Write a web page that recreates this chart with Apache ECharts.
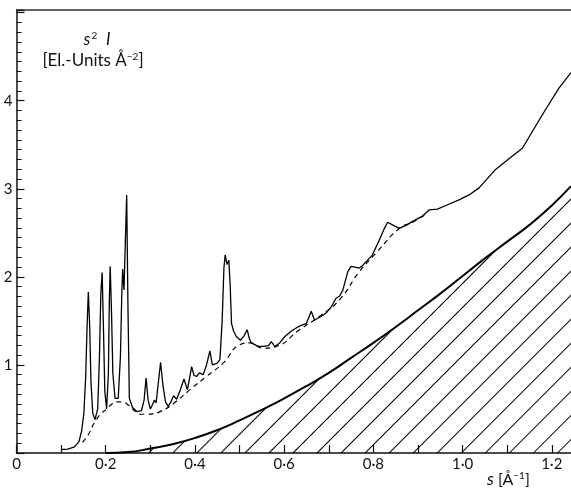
<!DOCTYPE html>
<html>
<head>
<meta charset="utf-8">
<script src="https://cdn.jsdelivr.net/npm/echarts@6/dist/echarts.min.js"></script>
<style>
  html, body { margin: 0; padding: 0; background: #fff; }
  #chart { width: 571px; height: 492px; }
</style>
</head>
<body>
<div id="chart"></div>
<script>
// measured s^2 I curve (solid, with the sharp peaks)
const measuredS = [0.100, 0.115, 0.130, 0.140, 0.146, 0.151, 0.155, 0.158, 0.161, 0.164, 0.167, 0.171, 0.176, 0.182, 0.186, 0.189, 0.192, 0.195, 0.198, 0.202, 0.206, 0.208, 0.210, 0.213, 0.216, 0.221, 0.228, 0.233, 0.236, 0.238, 0.241, 0.244, 0.247, 0.250, 0.253, 0.260, 0.270, 0.280, 0.286, 0.2905, 0.295, 0.300, 0.305, 0.309, 0.313, 0.318, 0.323, 0.328, 0.334, 0.340, 0.346, 0.352, 0.359, 0.366, 0.3754, 0.383, 0.388, 0.3926, 0.398, 0.404, 0.410, 0.4186, 0.426, 0.4335, 0.439, 0.4425, 0.450, 0.456, 0.461, 0.465, 0.4678, 0.472, 0.476, 0.479, 0.482, 0.487, 0.493, 0.502, 0.510, 0.517, 0.522, 0.5266, 0.5415, 0.5527, 0.565, 0.571, 0.579, 0.590, 0.601, 0.615, 0.627, 0.638, 0.6496, 0.6607, 0.668, 0.683, 0.694, 0.7055, 0.7166, 0.724, 0.7315, 0.7427, 0.750, 0.7687, 0.776, 0.798, 0.8134, 0.8246, 0.832, 0.843, 0.858, 0.875, 0.888, 0.910, 0.925, 0.9437, 0.9624, 0.992, 1.0145, 1.037, 1.074, 1.111, 1.134, 1.1635, 1.186, 1.2156, 1.243];
const measuredI = [0.04, 0.045, 0.07, 0.13, 0.25, 0.45, 0.85, 1.40, 1.83, 1.45, 0.80, 0.45, 0.38, 0.50, 1.10, 1.80, 2.05, 1.40, 0.70, 0.50, 0.90, 1.70, 2.12, 1.60, 0.90, 0.62, 0.62, 1.10, 1.80, 2.09, 1.85, 2.40, 2.93, 1.60, 0.62, 0.52, 0.47, 0.48, 0.60, 0.85, 0.60, 0.50, 0.55, 0.60, 0.57, 0.80, 1.03, 0.78, 0.58, 0.53, 0.58, 0.65, 0.61, 0.70, 0.84, 0.72, 0.85, 0.98, 0.88, 0.87, 0.91, 0.89, 1.00, 1.16, 1.00, 0.98, 1.02, 1.06, 1.50, 2.10, 2.25, 2.14, 2.19, 1.90, 1.47, 1.38, 1.32, 1.28, 1.33, 1.40, 1.30, 1.25, 1.21, 1.21, 1.22, 1.265, 1.21, 1.25, 1.32, 1.38, 1.42, 1.45, 1.47, 1.61, 1.51, 1.55, 1.59, 1.66, 1.76, 1.78, 1.85, 2.06, 2.12, 2.10, 2.13, 2.25, 2.42, 2.55, 2.62, 2.59, 2.55, 2.59, 2.63, 2.69, 2.76, 2.77, 2.81, 2.875, 2.93, 3.01, 3.22, 3.37, 3.46, 3.71, 3.90, 4.14, 4.32];

// smooth dashed curve under the peaks
const envelopeS = [0.148, 0.160, 0.170, 0.1765, 0.190, 0.2026, 0.215, 0.2287, 0.240, 0.247, 0.2697, 0.280, 0.292, 0.305, 0.3218, 0.3516, 0.389, 0.426, 0.463, 0.5006, 0.523, 0.5527, 0.5825, 0.6346, 0.679, 0.724, 0.7687, 0.806, 0.858, 0.888, 0.920];
const envelopeI = [0.12, 0.20, 0.30, 0.36, 0.45, 0.50, 0.56, 0.58, 0.575, 0.56, 0.46, 0.44, 0.44, 0.445, 0.47, 0.56, 0.72, 0.87, 1.02, 1.23, 1.25, 1.19, 1.21, 1.40, 1.55, 1.74, 2.06, 2.27, 2.55, 2.62, 2.72];

// heavy smooth background curve (hatched below)
const backgroundS = [0.20, 0.25, 0.30, 0.35, 0.40, 0.45, 0.50, 0.55, 0.60, 0.65, 0.70, 0.75, 0.80, 0.85, 0.90, 0.95, 1.00, 1.05, 1.10, 1.15, 1.20, 1.243];
const backgroundI = [0.00, 0.01, 0.05, 0.10, 0.17, 0.26, 0.37, 0.49, 0.62, 0.76, 0.91, 1.08, 1.25, 1.43, 1.62, 1.81, 2.01, 2.21, 2.40, 2.59, 2.81, 3.03];

const zip = (xs, ys) => xs.map((x, i) => [x, ys[i]]);

const chart = echarts.init(document.getElementById('chart'));

const fmtS = v => {
  const t = v * 10;
  if (Math.abs(t - Math.round(t)) > 0.01) return '';
  const k = Math.round(t);
  if (k % 2) return '';
  if (k === 0) return '0';
  return (k / 10).toFixed(1).replace('.', '·');
};

chart.setOption({
  animation: false,
  backgroundColor: '#fff',
  grid: { left: 16.5, right: 0, top: 10, bottom: 39 },
  xAxis: [{
    type: 'value',
    min: 0,
    max: 1.243,
    interval: 0.1,
    splitLine: { show: false },
    axisLine: { lineStyle: { color: '#111', width: 1.5 } },
    axisTick: { inside: true, length: 8, lineStyle: { color: '#111', width: 1.2 } },
    axisLabel: {
      margin: 4, color: '#111', fontFamily: 'Lato', fontSize: 15,
      formatter: fmtS, showMaxLabel: false
    }
  }, {
    type: 'value',
    position: 'top',
    min: 0,
    max: 1.243,
    splitLine: { show: false },
    axisLine: { show: true, lineStyle: { color: '#333', width: 1.5 } },
    axisTick: { show: false },
    axisLabel: { show: false }
  }],
  yAxis: {
    type: 'value',
    min: 0,
    max: 5.03,
    interval: 1,
    splitLine: { show: false },
    axisLine: { show: true, lineStyle: { color: '#111', width: 1.5 } },
    axisTick: { inside: true, length: 8, lineStyle: { color: '#111', width: 1.2 } },
    minorTick: { show: true, splitNumber: 9, length: 5, lineStyle: { color: '#111', width: 1 } },
    axisLabel: {
      margin: 4, color: '#111', fontFamily: 'Lato', fontSize: 15,
      formatter: v => (v >= 1 && v <= 4 && Math.abs(v - Math.round(v)) < 0.01) ? String(v) : ''
    }
  },
  graphic: [
    {
      type: 'text', x: 97, y: 31,
      style: {
        text: '{i|s}{sup|2}  {i|I}',
        textAlign: 'center', textVerticalAlign: 'top',
        font: '17px Lato', fill: '#111',
        rich: {
          i: { fontFamily: 'Lato', fontStyle: 'italic', fontSize: 17, fill: '#111' },
          sup: { fontFamily: 'Lato', fontSize: 10, fill: '#111', padding: [0, 0, 8, 1] }
        }
      }
    },
    {
      type: 'text', x: 93, y: 52,
      style: {
        text: '[El.-Units Å{sup|−2}]',
        textAlign: 'center', textVerticalAlign: 'top',
        font: '17px Lato', fill: '#111',
        rich: { sup: { fontFamily: 'Lato', fontSize: 10, fill: '#111', padding: [0, 0, 8, 0] } }
      }
    },
    {
      type: 'text', x: 487, y: 471,
      style: {
        text: '{i|s} [Å{sup|−1}]',
        textAlign: 'left', textVerticalAlign: 'top',
        font: '16px Lato', fill: '#111',
        rich: {
          i: { fontFamily: 'Lato', fontStyle: 'italic', fontSize: 17, fill: '#111' },
          sup: { fontFamily: 'Lato', fontSize: 10, fill: '#111', padding: [0, 0, 8, 0] }
        }
      }
    }
  ],
  series: [
    {
      name: 'background',
      type: 'line',
      data: zip(backgroundS, backgroundI),
      smooth: true,
      showSymbol: false,
      lineStyle: { color: '#000', width: 2 },
      itemStyle: {
        color: '#000',
        decal: {
          symbol: 'rect',
          symbolSize: 1,
          color: '#000',
          backgroundColor: 'rgba(0,0,0,0)',
          dashArrayX: [1, 0],
          dashArrayY: [1, 16],
          rotation: -Math.PI / 4
        }
      },
      areaStyle: { color: 'rgba(0,0,0,0)', opacity: 1 },
      z: 2
    },
    {
      name: 'envelope',
      type: 'line',
      data: zip(envelopeS, envelopeI),
      smooth: true,
      showSymbol: false,
      lineStyle: { color: '#000', width: 1.2, type: [5, 4] },
      z: 3
    },
    {
      name: 'measured',
      type: 'line',
      data: zip(measuredS, measuredI),
      smooth: false,
      showSymbol: false,
      lineStyle: { color: '#000', width: 1.3 },
      z: 4
    }
  ]
});
</script>
</body>
</html>
